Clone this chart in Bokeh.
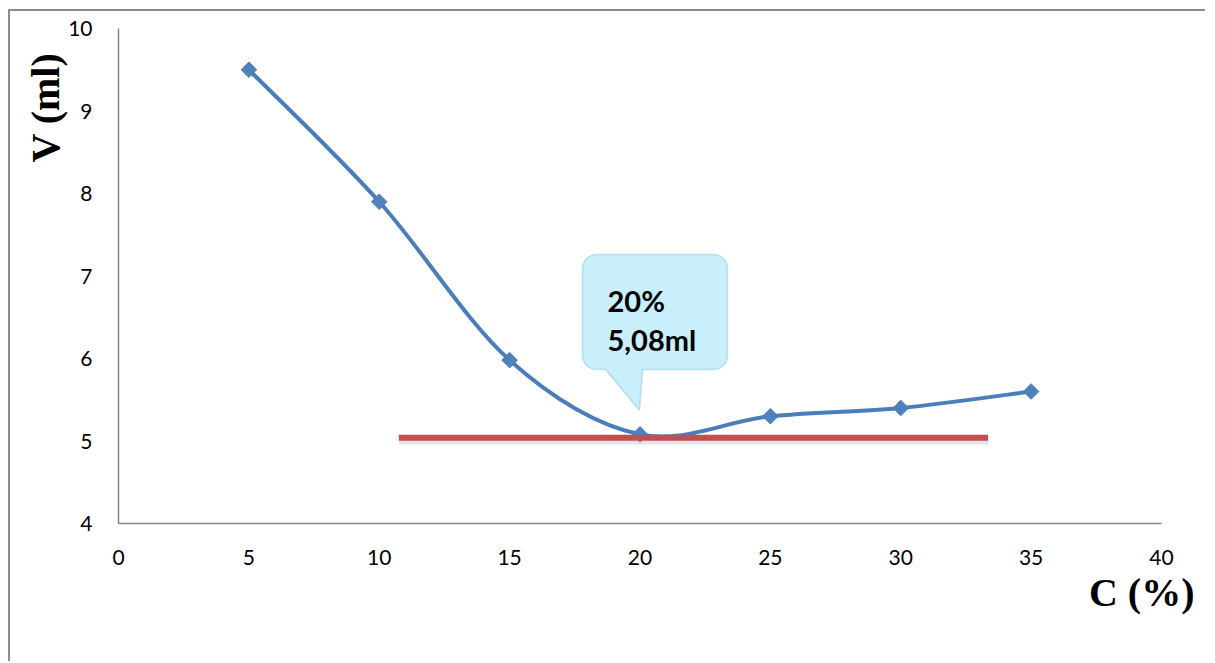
import numpy as np
from bokeh.plotting import figure
from bokeh.models import Range1d, FixedTicker, Label, PolyAnnotation, Title
from bokeh.embed import file_html
from bokeh.resources import INLINE

# ---- data ----
conc = [5, 10, 15, 20, 25, 30, 35]
volume = [9.5, 7.9, 5.98, 5.08, 5.3, 5.4, 5.6]
x_ticks = [0, 5, 10, 15, 20, 25, 30, 35, 40]
y_ticks = [4, 5, 6, 7, 8, 9, 10]
x_tick_labels = ["0", "5", "10", "15", "20", "25", "30", "35", "40"]
y_tick_labels = ["4", "5", "6", "7", "8", "9", "10"]
ref_x = [10.75, 33.35]
ref_y = [5.04, 5.04]
callout_lines = ["20%", "5,08ml"]
x_title = "C (%)"
y_title = "V (ml)"

# ---- layout helpers (page pixel -> data) ----
FL, FT, FW, FH = 118, 28, 1043, 495
def dx(px):
    return (px - FL) / (FW / 40.0)
def dy(py):
    return 4 + (FT + FH - py) / (FH / 6.0)

p = figure(width=1197, height=652, output_backend="svg", toolbar_location=None,
           x_range=Range1d(0, 40), y_range=Range1d(4, 10),
           min_border_left=108, min_border_right=46, min_border_top=17, min_border_bottom=140)
p.styles = {"border-top": "2px solid #8c8c8c", "border-left": "2px solid #8c8c8c",
            "margin-top": "9px", "margin-left": "8px"}
p.outline_line_color = None
p.xgrid.visible = False
p.ygrid.visible = False
p.background_fill_color = "white"
p.border_fill_color = "white"

for ax, ticks, labels, standoff in ((p.xaxis[0], x_ticks, x_tick_labels, 26),
                                     (p.yaxis[0], y_ticks, y_tick_labels, 26)):
    ax.ticker = FixedTicker(ticks=ticks)
    ax.major_label_overrides = {t: l for t, l in zip(ticks, labels)}
    ax.axis_line_color = "#868686"
    ax.axis_line_width = 1.5
    ax.major_tick_line_color = None
    ax.minor_tick_line_color = None
    ax.major_tick_out = 0
    ax.major_tick_in = 0
    ax.major_label_standoff = standoff
    ax.major_label_text_font = "Lato"
    ax.major_label_text_font_size = "21px"
    ax.major_label_text_color = "#000000"

# ---- smoothed line (Bezier segments through the points) ----
xs = np.array(conc, dtype=float)
ys = np.array(volume, dtype=float)
n = len(xs)
x0, y0, x1, y1, cx0, cy0, cx1, cy1 = ([] for _ in range(8))
for i in range(n - 1):
    a = max(i - 1, 0)
    d = min(i + 2, n - 1)
    x0.append(xs[i]); y0.append(ys[i]); x1.append(xs[i + 1]); y1.append(ys[i + 1])
    cx0.append(xs[i] + (xs[i + 1] - xs[a]) / 6); cy0.append(ys[i] + (ys[i + 1] - ys[a]) / 6)
    cx1.append(xs[i + 1] - (xs[d] - xs[i]) / 6); cy1.append(ys[i + 1] - (ys[d] - ys[i]) / 6)
p.bezier(x0=x0, y0=y0, x1=x1, y1=y1, cx0=cx0, cy0=cy0, cx1=cx1, cy1=cy1,
         line_color="#4A7EBB", line_width=4)
p.scatter(conc, volume, marker="square", angle=np.pi / 4, size=11,
          fill_color="#4F81BD", line_color="#4A7EBB", line_width=1)

# reference line with soft shadow
p.line(ref_x, [v - 0.045 for v in ref_y], line_color="#999999", line_width=6, line_alpha=0.25)
p.line(ref_x, ref_y, line_color="#C0504D", line_width=6)

# ---- callout ----
L, R, T, B, r = 582, 727, 254, 369, 14
def arc(cx, cy, a0, a1):
    t = np.linspace(np.radians(a0), np.radians(a1), 8)
    return list(cx + r * np.cos(t)), list(cy - r * np.sin(t))
px, py = [], []
for (cx, cy, a0, a1) in ((L + r, T + r, 180, 90), (R - r, T + r, 90, 0),
                         (R - r, B - r, 0, -90)):
    ax_, ay_ = arc(cx, cy, a0, a1); px += ax_; py += ay_
px += [642, 639, 605]; py += [B, 410, B]
ax_, ay_ = arc(L + r, B - r, -90, -180); px += ax_; py += ay_
callout = PolyAnnotation(xs=[dx(v) for v in px], ys=[dy(v) for v in py],
                         fill_color="#C8EFFB", fill_alpha=1.0,
                         line_color="#4BACC6", line_width=1.5)
p.add_layout(callout)
for txt, base in zip(callout_lines, (300, 339)):
    p.add_layout(Label(x=dx(607), y=dy(base), text=txt, text_font="Lato",
                       text_font_style="bold", text_font_size="29px",
                       text_color="#000000", text_baseline="alphabetic", text_align="left"))

# ---- axis titles ----
p.add_layout(Title(text=x_title, align="right", offset=-33, standoff=0,
                   text_font="Liberation Serif", text_font_style="bold",
                   text_font_size="40px", text_color="#000000"), "below")
p.add_layout(Title(text=y_title, align="right", offset=24, standoff=-4,
                   text_font="Liberation Serif", text_font_style="bold",
                   text_font_size="40px", text_color="#000000"), "left")

open("out.html", "w").write(file_html(p, INLINE))
